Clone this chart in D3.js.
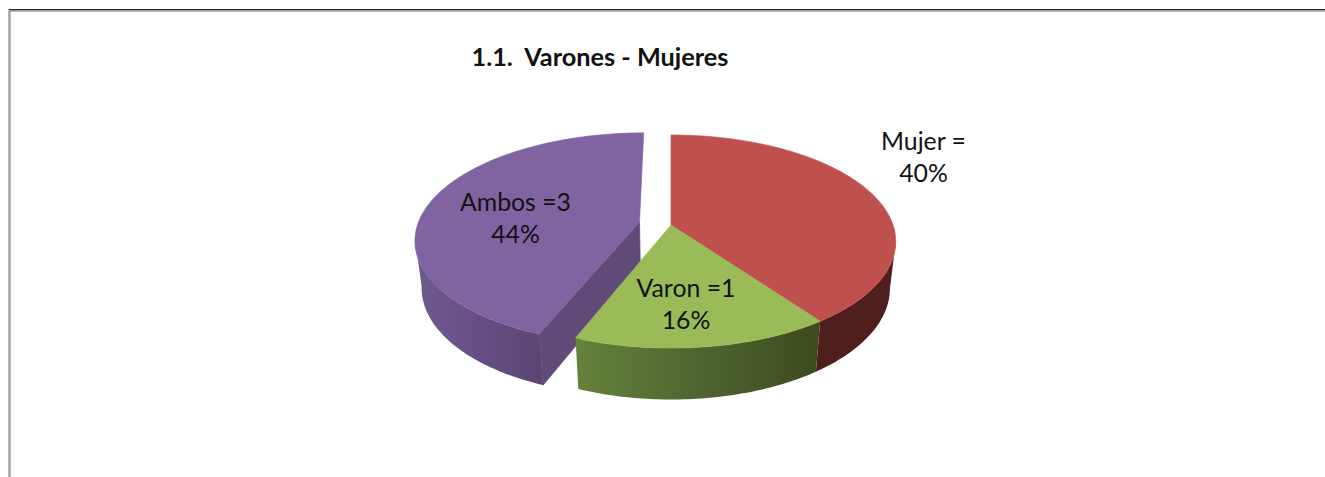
<!DOCTYPE html>
<html>
<head>
<meta charset="utf-8">
<script src="https://cdn.jsdelivr.net/npm/d3@7"></script>
<style>
  html, body { margin: 0; padding: 0; background: #fff; }
  svg { display: block; }
  text { font-family: Lato, "Open Sans", sans-serif; fill: #111; }
</style>
</head>
<body>
<div id="chart"></div>
<script>
// data
const categories = ["Mujer", "Varon", "Ambos"];
const shares = [40, 16, 44];
const labelLines = [["Mujer =", "40%"], ["Varon =1", "16%"], ["Ambos =3", "44%"]];
const titleText = "1.1.  Varones - Mujeres";

const topColors = ["#c0504d", "#9bbb59", "#8064a2"];
const wallStops = [
  ["#4e1f1c", "#4e1f1c"],
  ["#66823a", "#4f6530", "#3d4a20"],
  ["#705a90", "#674f85", "#5b4673"]
];
const cutColor = "#5f4a78";

const width = 1325, height = 477;

//projection of the tilted pie
const view = {cx: 671, cy: 225, rx: 222, ry: 104, depth: 48, tilt: 0.155, shrink: 0.026};
const explode = [0, 0, 0.145];

function project(u, v, z) {
  const s = 1 / (1 - view.tilt * v + view.shrink * z);
  return [view.cx + view.rx * u * s, view.cy + (view.ry * v + view.depth * z) * s];
}

const svg = d3.select("#chart").append("svg")
  .attr("width", width)
  .attr("height", height);

const defs = svg.append("defs");
const line = d3.line();

//frame
svg.append("path").attr("d", `M9.5 477V10.5H${width}`)
  .attr("fill", "none").attr("stroke", "#a0a0a0").attr("stroke-width", 2.4);
svg.append("line").attr("x1", 9).attr("x2", width).attr("y1", 9.5).attr("y2", 9.5)
  .attr("stroke", "#222").attr("stroke-width", 1);

//slices
const pie = d3.pie().sort(null).value(d => d);
const slices = pie(shares).map((d, i) => {
  const mid = (d.startAngle + d.endAngle) / 2;
  return {
    ...d,
    i,
    ox: Math.sin(mid) * explode[i],
    oy: -Math.cos(mid) * explode[i]
  };
});

function rimPoint(d, a, z) {
  return project(d.ox + Math.sin(a), d.oy - Math.cos(a), z);
}
function apexPoint(d, z) {
  return project(d.ox, d.oy, z);
}
function angles(a0, a1) {
  const n = Math.max(2, Math.ceil(Math.abs(a1 - a0) * 60));
  return d3.range(n + 1).map(k => a0 + (a1 - a0) * k / n);
}

// the rim wall shows between the two silhouette points of the ellipse
const wallRange = [Math.PI * 0.55, Math.PI * 1.45];

function wallPath(d) {
  const a0 = Math.max(d.startAngle, wallRange[0]);
  const a1 = Math.min(d.endAngle, wallRange[1]);
  const as = angles(a0, a1);
  const top = as.map(a => rimPoint(d, a, 0));
  const bottom = as.slice().reverse().map(a => rimPoint(d, a, 1));
  return line(top.concat(bottom)) + "Z";
}

slices.forEach(d => {
  const stops = wallStops[d.i];
  const a0 = Math.max(d.startAngle, wallRange[0]);
  const a1 = Math.min(d.endAngle, wallRange[1]);
  const xs = angles(a0, a1).map(a => rimPoint(d, a, 0)[0]);
  const g = defs.append("linearGradient")
    .attr("id", `wall${d.i}`)
    .attr("gradientUnits", "userSpaceOnUse")
    .attr("x1", d3.min(xs)).attr("x2", d3.max(xs))
    .attr("y1", 0).attr("y2", 0);
  stops.forEach((c, k) => {
    g.append("stop").attr("offset", k / (stops.length - 1)).attr("stop-color", c);
  });
});

const drawOrder = [2, 0, 1];

drawOrder.forEach(i => {
  const d = slices[i];
  const g = svg.append("g").attr("class", "slice " + categories[i]);

  // the cut face of the moved slice shows towards the viewer
  if (explode[i] > 0) {
    const cut = [apexPoint(d, 0), rimPoint(d, d.startAngle, 0), rimPoint(d, d.startAngle, 1), apexPoint(d, 1)];
    g.append("path").attr("d", line(cut) + "Z")
      .attr("fill", cutColor)
      .attr("stroke", cutColor)
      .attr("stroke-width", 0.8);
  }

  g.append("path").attr("d", wallPath(d)).attr("fill", `url(#wall${i})`);

  const face = [apexPoint(d, 0)].concat(angles(d.startAngle, d.endAngle).map(a => rimPoint(d, a, 0)));
  g.append("path").attr("d", line(face) + "Z")
    .attr("fill", topColors[i])
    .attr("stroke", topColors[i])
    .attr("stroke-width", 0.6);
});

//texts
svg.append("text")
  .attr("x", 600).attr("y", 66)
  .attr("text-anchor", "middle")
  .attr("font-size", 25.3)
  .attr("font-weight", 700)
  .style("white-space", "pre")
  .text(titleText);

const labelPos = [[923.5, 150], [686, 297], [515.5, 211]];
const labelGap = 32;

labelLines.forEach((lines, i) => {
  lines.forEach((t, k) => {
    svg.append("text")
      .attr("x", labelPos[i][0])
      .attr("y", labelPos[i][1] + k * labelGap)
      .attr("text-anchor", "middle")
      .attr("font-size", 24.8)
      .text(t);
  });
});
</script>
</body>
</html>
